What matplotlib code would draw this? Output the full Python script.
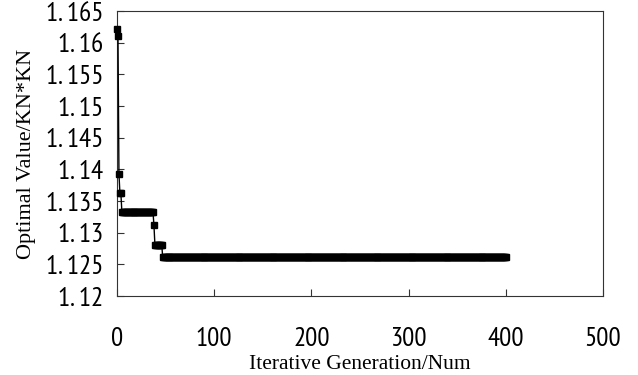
import numpy as np
import matplotlib
matplotlib.use("Agg")
import matplotlib.pyplot as plt

# Step data: value held from each start generation until next start
step_start_gen = [0, 1, 2, 3, 5, 38, 39, 47]
step_values = [1.1622, 1.1611, 1.1393, 1.1362, 1.1333, 1.1312, 1.1281, 1.1262]
last_gen = 400

x_ticks = [0, 100, 200, 300, 400, 500]
y_ticks = [1.12, 1.125, 1.13, 1.135, 1.14, 1.145, 1.15, 1.155, 1.16, 1.165]
y_tick_labels = ["1. 12", "1. 125", "1. 13", "1. 135", "1. 14", "1. 145",
                 "1. 15", "1. 155", "1. 16", "1. 165"]

ends = step_start_gen[1:] + [last_gen + 1]
counts = [e - s for s, e in zip(step_start_gen, ends)]
gens = np.arange(0, last_gen + 1)
vals = np.repeat(step_values, counts)

tick_font = "PT Sans Narrow"
label_font = "Liberation Serif"

fig = plt.figure(figsize=(6.38, 3.75), dpi=100)
ax = fig.add_axes([117/638, 1 - 296/375, (603-117)/638, (296-11)/375])

ax.plot(gens, vals, color="black", linewidth=1.0, marker="s", markersize=4.5,
        markerfacecolor="black", markeredgecolor="black", clip_on=False, zorder=3)

ax.set_xlim(0, 500)
ax.set_ylim(1.12, 1.165)
ax.set_xticks(x_ticks)
ax.set_xticklabels([str(t) for t in x_ticks], fontfamily=tick_font, fontsize=19.5)
ax.set_yticks(y_ticks)
ax.set_yticklabels(y_tick_labels, fontfamily=tick_font, fontsize=19.5)
ax.tick_params(direction="in", length=5, width=0.8, color="#333333")
ax.tick_params(axis="y", pad=10)
ax.tick_params(axis="x", pad=22)

for s in ax.spines.values():
    s.set_linewidth(0.8)
    s.set_color("#333333")

ax.set_xlabel("Iterative Generation/Num", fontfamily=label_font, fontsize=15.5, labelpad=3)
ax.set_ylabel("Optimal Value/KN*KN", fontfamily=label_font, fontsize=16, labelpad=7)

fig.savefig("out.png", dpi=100)
